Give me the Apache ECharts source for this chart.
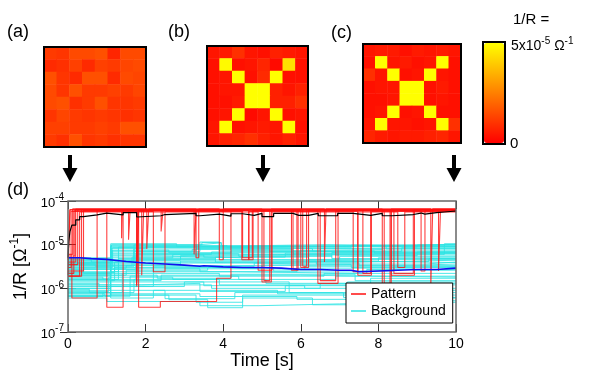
<!DOCTYPE html>
<html><head><meta charset="utf-8">
<script src="https://cdn.jsdelivr.net/npm/echarts/dist/echarts.min.js"></script>
<style>html,body{margin:0;padding:0;background:#fff}#c{width:605px;height:371px}</style>
</head><body><div id="c"></div>
<script>
// ---- 8x8 maps of 1/R, in units of 1e-5 Ohm^-1 (colour scale 0..5) ----
const mapA = [
 [1.14,1.04,1.45,1.45,1.57,0.73,1.45,1.45],
 [0.82,0.94,1.25,0.82,1.25,1.14,1.35,1.45],
 [1.57,1.04,0.82,1.57,1.57,0.82,1.45,1.35],
 [1.45,1.04,1.57,1.14,1.14,1.25,1.14,1.35],
 [1.45,1.57,0.94,1.14,1.57,1.04,1.04,1.14],
 [1.04,1.35,1.14,1.04,1.14,1.04,0.94,1.04],
 [1.25,1.25,1.14,1.14,1.25,1.14,1.57,1.57],
 [1.14,0.94,1.57,1.04,1.14,0.94,1.04,1.04]
];
const mapB = [
 [0.41,0.51,0.94,0.41,0.31,0.63,0.51,0.41],
 [0.31,4.9,0.31,0.41,0.73,0.20,4.4,0.31],
 [0.31,0.41,5,0.31,0.82,5,0.31,0.31],
 [0.31,0.41,0.41,5,5,0.63,0.41,0.63],
 [0.31,0.31,0.51,5,5,0.63,0.63,0.94],
 [0.31,0.41,5,0.20,0.41,5,0.31,0.41],
 [0.41,5,0.31,0.41,0.51,0.41,5,0.31],
 [0.41,0.63,0.73,0.94,0.63,0.41,0.63,0.41]
];
const mapC = [
 [0.41,0.51,0.51,0.31,0.51,0.41,0.51,0.41],
 [0.31,5,0.41,0.51,0.31,0.41,5,0.31],
 [0.94,0.41,5,0.31,0.41,5,0.41,0.31],
 [0.31,0.41,0.41,5,5,0.31,0.51,0.31],
 [0.31,0.31,0.41,5,5,0.31,0.41,0.31],
 [0.31,0.41,5,0.31,0.41,5,0.31,0.31],
 [0.41,5,0.41,0.41,0.31,0.41,5,0.94],
 [0.73,0.51,0.41,0.51,0.51,0.63,0.73,0.41]
];
const colorbarLabels = ['5x10{sup|-5} Ω{sup|-1}', '0'];

// ---- time traces: [time s, 1/R Ohm^-1] (step changes) ----
const patternLines = [
 [[0,2e-6],[0.05,6.2e-5],[1.0,3.7e-7],[1.42,6.2e-5],[5.76,2.6e-6],[5.93,6.2e-5],[10,6.2e-5]],
 [[0,5e-6],[0.1,6e-7],[0.75,6.0e-5],[1.77,1.1e-6],[1.82,6.0e-5],[6.44,1.3e-6],[6.96,6.0e-5],[10,6.0e-5]],
 [[0,1.9e-6],[0.35,6.4e-5],[1.82,3.7e-7],[2.38,5e-7],[3.83,1.7e-6],[4.2,6.4e-5],[8.33,2e-6],[8.93,6.4e-5],[10,6.4e-5]],
 [[0,3e-6],[0.08,5.8e-5],[1.38,1.4e-5],[1.4,5.8e-5],[2.2,2.4e-6],[2.5,5.8e-5],[4.48,4.5e-6],[4.66,5.8e-5],[7.47,2e-6],[7.82,5.8e-5],[10,5.8e-5]],
 [[0,4e-6],[0.2,6.5e-5],[2.03,8e-6],[2.08,6.5e-5],[3.3,5e-6],[3.37,6.5e-5],[5.0,1.4e-6],[5.24,6.5e-5],[8.1,1.2e-6],[8.33,6.5e-5],[10,6.5e-5]],
 [[0,2.5e-6],[0.4,6.1e-5],[1.77,1.2e-6],[1.8,6.1e-5],[4.66,4.5e-6],[4.77,6.1e-5],[6.0,3e-6],[6.2,6.1e-5],[9.1,2.5e-6],[9.2,6.1e-5],[10,6.1e-5]],
 [[0,1.9e-6],[0.3,5.6e-5],[4.9,2.6e-6],[5.26,5.6e-5],[7.35,2.4e-6],[7.47,5.6e-5],[8.5,3e-6],[8.68,5.6e-5],[10,5.6e-5]],
 [[0,6e-6],[0.12,6.6e-5],[3.9,4.5e-6],[4.0,6.6e-5],[6.61,4e-6],[6.65,6.6e-5],[9.35,1e-6],[9.4,6.6e-5],[10,6.6e-5]],
 [[0,3.5e-6],[0.25,6.3e-5],[2.4,2e-5],[2.45,6.3e-5],[5.8,2.8e-6],[5.9,6.3e-5],[8.4,2.2e-6],[8.9,6.3e-5],[10,6.3e-5]],
 [[0,2.2e-6],[0.15,5.9e-5],[1.56,1.3e-5],[1.6,5.9e-5],[4.5,5e-6],[4.75,5.9e-5],[6.5,1.5e-6],[6.9,5.9e-5],[9.55,2.5e-6],[9.6,5.9e-5],[10,5.9e-5]],
 [[0,4.5e-6],[0.05,6.4e-5],[1.9,2e-6],[1.95,6.4e-5],[5.05,1.5e-6],[5.2,6.4e-5],[7.6,2.2e-6],[7.8,6.4e-5],[10,6.4e-5]],
 [[0,5.5e-6],[0.18,6.2e-5],[3.25,6e-6],[3.3,6.2e-5],[6.05,3.2e-6],[6.15,6.2e-5],[8.15,1.3e-6],[8.3,6.2e-5],[10,6.2e-5]]
];
const backgroundLines = [
 [[0,4.8e-6],[1.1,9.5e-6],[4.1,8.5e-6],[7.3,9.8e-6],[10,9.8e-6]],
 [[0,4.2e-6],[1.12,1.0e-5],[3.4,1.1e-5],[3.95,9e-6],[10,9e-6]],
 [[0,3.6e-6],[0.7,3.2e-6],[1.7,8e-6],[5.2,7e-6],[8.6,8.5e-6],[10,8.5e-6]],
 [[0,3.0e-6],[1.15,7.5e-6],[2.6,6.5e-6],[6.0,7.5e-6],[10,7.5e-6]],
 [[0,2.6e-6],[0.4,2.2e-6],[1.8,6e-6],[3.7,6.8e-6],[6.9,5.8e-6],[10,5.8e-6]],
 [[0,2.2e-6],[1.1,5.5e-6],[2.4,5e-6],[4.5,6e-6],[9.7,1.05e-5],[10,1.05e-5]],
 [[0,1.8e-6],[0.9,1.6e-6],[1.75,4.5e-6],[5.5,4.2e-6],[8.0,5e-6],[10,5e-6]],
 [[0,1.5e-6],[1.2,4e-6],[3.1,3.6e-6],[6.2,4.6e-6],[10,4.6e-6]],
 [[0,1.3e-6],[0.8,1.1e-6],[2.2,3.2e-6],[4.8,3.8e-6],[7.5,3.3e-6],[10,3.3e-6]],
 [[0,1.1e-6],[1.1,2.8e-6],[3.4,2.4e-6],[5.9,2.9e-6],[8.9,2.6e-6],[10,2.6e-6]],
 [[0,9.5e-7],[0.55,8e-7],[1.4,2.2e-6],[3.9,1.9e-6],[6.6,2.2e-6],[10,2.2e-6]],
 [[0,8.5e-7],[1.05,1.8e-6],[2.7,1.6e-6],[5.1,1.3e-6],[7.8,1.7e-6],[10,1.7e-6]],
 [[0,7.5e-7],[0.95,6.6e-7],[1.6,1.4e-6],[3.5,1.15e-6],[6.1,1.0e-6],[10,1.0e-6]],
 [[0,6.8e-7],[1.1,9e-7],[2.5,5.8e-7],[4.3,8e-7],[7.1,6.2e-7],[10,6.2e-7]],
 [[0,4.5e-6],[0.6,4.0e-6],[1.3,8.8e-6],[4.6,9.5e-6],[8.2,8e-6],[10,8e-6]],
 [[0,3.9e-6],[1.1,6.8e-6],[3.2,7.8e-6],[5.8,6.2e-6],[10,6.2e-6]],
 [[0,3.3e-6],[1.65,5.2e-6],[4.0,4.5e-6],[7.0,5.4e-6],[10,5.4e-6]],
 [[0,2.8e-6],[1.1,3.6e-6],[2.9,4.2e-6],[6.4,3.6e-6],[9.2,4e-6],[10,4e-6]],
 [[0,2.0e-6],[1.5,2.6e-6],[3.6,3.0e-6],[5.3,2.5e-6],[8.4,3.1e-6],[10,3.1e-6]],
 [[0,1.6e-6],[1.1,2.0e-6],[2.3,1.7e-6],[4.2,2.1e-6],[7.4,1.5e-6],[10,1.5e-6]],
 [[0,1.2e-6],[1.9,1.3e-6],[3.4,8.5e-7],[5.6,1.15e-6],[8.7,9e-7],[10,9e-7]],
 [[0,1.0e-6],[1.1,7e-7],[3.3,4.8e-7],[4.5,7e-7],[7.9,5.2e-7],[10,5.2e-7]],
 [[0,5e-6],[1.1,1.05e-5],[2.8,9e-6],[4.9,1.0e-5],[10,1.0e-5]],
 [[0,4.0e-6],[1.7,7e-6],[3.4,1.15e-5],[3.9,7.2e-6],[6.5,8.2e-6],[10,8.2e-6]],
 [[0,3.4e-6],[1.1,6.2e-6],[4.4,5.4e-6],[6.8,6.6e-6],[10,6.6e-6]],
 [[0,2.4e-6],[1.3,4.8e-6],[3.8,4e-6],[7.6,4.4e-6],[10,4.4e-6]],
 [[0,1.9e-6],[1.1,3.4e-6],[2.5,2.8e-6],[5.0,3.4e-6],[9.0,3.6e-6],[10,3.6e-6]],
 [[0,1.4e-6],[1.6,1.9e-6],[4.4,1.6e-6],[6.9,1.9e-6],[10,1.9e-6]],
 [[0,9e-7],[1.1,1.1e-6],[3.0,1.4e-6],[5.7,8e-7],[8.2,1.2e-6],[10,1.2e-6]],
 [[0,7e-7],[2.6,5.5e-7],[3.6,3.6e-7],[4.5,6e-7],[6.3,4.2e-7],[9.5,6e-7],[10,6e-7]],
 [[0,6.5e-7],[0.9,8e-7],[1.1,6e-7],[2.2,9e-7],[5.4,7.5e-7],[8.8,7e-7],[10,7e-7]],
 [[0,3.7e-6],[1.1,8.2e-6],[2.0,9.2e-6],[5.9,8.8e-6],[9.0,9.8e-6],[10,9.8e-6]],
 [[0,2.3e-6],[1.2,3.0e-6],[3.6,2.7e-6],[6.1,3.2e-6],[10,3.2e-6]],
 [[0,1.7e-6],[1.1,2.4e-6],[4.3,2.2e-6],[7.7,2.7e-6],[10,2.7e-6]],
 [[0,8e-7],[1.7,1.6e-6],[3.9,1.2e-6],[7.2,1.4e-6],[10,1.4e-6]],
 [[0,6e-7],[1.0,5e-7],[3.4,4e-7],[4.9,4.4e-7],[7.0,4.8e-7],[10,4.8e-7]],
 [[0,4.6e-6],[1.1,9e-6],[3.0,1.0e-5],[6.7,9.2e-6],[10,9.2e-6]],
 [[0,3.8e-6],[1.14,8.6e-6],[4.7,7.8e-6],[8.1,9e-6],[10,9e-6]],
 [[0,3.2e-6],[1.1,7.2e-6],[3.3,8.2e-6],[6.3,7e-6],[10,7e-6]],
 [[0,2.7e-6],[1.75,6.4e-6],[4.2,7.2e-6],[7.9,6.4e-6],[10,6.4e-6]],
 [[0,2.1e-6],[1.1,5.8e-6],[3.5,5.2e-6],[5.6,6.4e-6],[10,6.4e-6]],
 [[0,1.6e-6],[1.3,4.4e-6],[2.9,5.6e-6],[6.8,4.8e-6],[10,4.8e-6]],
 [[0,1.2e-6],[1.1,3.8e-6],[4.0,4.2e-6],[7.2,3.9e-6],[10,3.9e-6]],
 [[0,4.4e-6],[1.7,9.8e-6],[3.45,1.12e-5],[3.95,9.4e-6],[8.6,1.02e-5],[10,1.02e-5]],
 [[0,3.5e-6],[1.1,5e-6],[2.7,6e-6],[5.4,5.6e-6],[9.0,6.8e-6],[10,6.8e-6]],
 [[0,2.9e-6],[1.5,3.3e-6],[4.1,3.5e-6],[7.3,3.0e-6],[10,3.0e-6]],
 [[0,1.0e-6],[1.1,1.5e-6],[2.4,2.0e-6],[6.0,1.8e-6],[10,1.8e-6]],
 [[0,7.8e-7],[1.1,1.2e-6],[3.7,1.0e-6],[6.5,1.3e-6],[10,1.3e-6]],
 [[0,6.6e-7],[1.1,7.5e-7],[3.4,6.5e-7],[5.9,5.6e-7],[8.5,8e-7],[10,8e-7]],
 [[0,2.0e-6],[1.1,4.5e-6],[3.8,5.2e-6],[6.2,4.1e-6],[9.3,4.8e-6],[10,4.8e-6]]
];
const patternMean = [[0,5e-6],[0.02,1.2e-5],[0.05,2e-5],[0.1,2.8e-5],[0.2,3.7e-5],[0.3,4.4e-5],[0.4,4.8e-5],[0.75,5.3e-5],[1.0,4.8e-5],[1.42,5.4e-5],[1.77,4.3e-5],[1.82,4.6e-5],[2.4,4.9e-5],[2.5,5.2e-5],[3.3,4.6e-5],[3.4,5.0e-5],[3.9,4.5e-5],[4.2,5.1e-5],[4.5,4.7e-5],[4.8,5.2e-5],[5.0,4.4e-5],[5.3,5.2e-5],[5.8,4.7e-5],[5.95,5.1e-5],[6.0,4.7e-5],[6.2,5.2e-5],[6.45,4.6e-5],[6.95,5.2e-5],[7.35,4.7e-5],[7.8,5.2e-5],[8.1,4.6e-5],[8.35,4.9e-5],[8.9,5.3e-5],[9.1,5.0e-5],[9.2,5.4e-5],[9.5,5.6e-5],[9.7,5.9e-5],[10,5.9e-5]];
const backgroundMean = [[0,5.0e-6],[0.3,4.8e-6],[0.6,4.6e-6],[1.0,4.4e-6],[1.2,4.1e-6],[1.5,3.8e-6],[2.0,3.6e-6],[2.5,3.4e-6],[3.0,3.2e-6],[3.4,3.3e-6],[3.5,3.1e-6],[4.0,3.0e-6],[4.5,3.0e-6],[5.0,2.9e-6],[5.5,2.7e-6],[6.0,2.7e-6],[6.5,2.6e-6],[7.0,2.6e-6],[7.3,2.4e-6],[7.5,2.5e-6],[8.0,2.6e-6],[8.5,2.7e-6],[9.0,2.7e-6],[9.5,2.9e-6],[10,3.0e-6]];
const timeMin = 0, timeMax = 10, timeStep = 2;
const yMin = 1e-7, yMax = 1e-4;

const FONT = 'Liberation Sans';
const cells = m => { const d = []; m.forEach((row, r) => row.forEach((v, c) => d.push([c, r, v]))); return d; };
const idx = [0,1,2,3,4,5,6,7];

const hmGrids = [
  {left:44, top:47, width:102, height:100},
  {left:207, top:46, width:101, height:100},
  {left:363, top:44, width:98, height:99}
];
const grids = hmGrids.map(g => Object.assign({show:true, borderColor:'#000', borderWidth:2, backgroundColor:'transparent', z:10}, g));
grids.push({left:68, top:201, width:388, height:131, show:true, borderColor:'#666', borderWidth:1.5, backgroundColor:'transparent', z:10});

const xAxes = [0,1,2].map(i => ({type:'category', gridIndex:i, data:idx, show:false}));
const yAxes = [0,1,2].map(i => ({type:'category', gridIndex:i, data:idx, inverse:true, show:false}));

const tickStyle = {show:true, inside:true, length:8, lineStyle:{color:'#333', width:1}};
const rich = {
  b: {fontSize:13, fontFamily:FONT, color:'#000', verticalAlign:'bottom'},
  sup: {fontSize:10, fontFamily:FONT, color:'#000', verticalAlign:'bottom', padding:[0,0,7,0]}
};
xAxes.push({type:'value', gridIndex:3, min:timeMin, max:timeMax, interval:timeStep, position:'bottom',
  axisLine:{show:false}, axisTick:tickStyle, splitLine:{show:false},
  axisLabel:{fontSize:14, fontFamily:FONT, color:'#000', margin:5},
  name:'Time [s]', nameLocation:'middle', nameGap:19, nameTextStyle:{fontSize:18, fontFamily:FONT, color:'#000'}});
xAxes.push({type:'value', gridIndex:3, min:timeMin, max:timeMax, interval:timeStep, position:'top',
  axisLine:{show:false}, axisTick:tickStyle, splitLine:{show:false}, axisLabel:{show:false}});
yAxes.push({type:'log', logBase:10, gridIndex:3, min:yMin, max:yMax, position:'left',
  axisLine:{show:false}, axisTick:tickStyle, splitLine:{show:false}, minorTick:{show:false},
  axisLabel:{margin:4, formatter: v => '{b|10}{sup|' + Math.round(Math.log10(v)) + '}', rich: rich},
  name:'{n|1/R [Ω}{s|-1}{n|]}', nameLocation:'middle', nameRotate:90, nameGap:32,
  nameTextStyle:{rich:{n:{fontSize:18, fontFamily:FONT, color:'#000', verticalAlign:'bottom'}, s:{fontSize:12, fontFamily:FONT, color:'#000', verticalAlign:'bottom', padding:[0,0,9,0]}}}});
yAxes.push({type:'log', logBase:10, gridIndex:3, min:yMin, max:yMax, position:'right',
  axisLine:{show:false}, axisTick:tickStyle, splitLine:{show:false}, axisLabel:{show:false}});

const series = [mapA, mapB, mapC].map((m, i) => ({
  type:'heatmap', xAxisIndex:i, yAxisIndex:i, data:cells(m), silent:true, progressive:0,
  emphasis:{disabled:true}, itemStyle:{borderWidth:0}
}));
const lineBase = {type:'line', xAxisIndex:3, yAxisIndex:3, step:'end', symbol:'none', showSymbol:false, silent:true, animation:false};
const CYAN = '#2ee4e4', RED = '#ff1010';
backgroundLines.forEach(d => series.push(Object.assign({}, lineBase, {name:'Background', data:d, lineStyle:{color:CYAN, width:1, opacity:0.85}, itemStyle:{color:CYAN}})));
patternLines.forEach(d => series.push(Object.assign({}, lineBase, {name:'Pattern', data:d, lineStyle:{color:RED, width:1.1, opacity:0.8}, itemStyle:{color:RED}})));
series.push(Object.assign({}, lineBase, {name:'Background mean', data:backgroundMean, lineStyle:{color:'#1010ee', width:1.6}, itemStyle:{color:'#1010ee'}}));
series.push(Object.assign({}, lineBase, {name:'Pattern mean', data:patternMean, lineStyle:{color:'#000', width:1.2}, itemStyle:{color:'#000'}}));

const arrow = cx => ([
  {type:'rect', shape:{x:cx-2, y:155, width:4, height:14}, style:{fill:'#000'}, silent:true},
  {type:'polygon', shape:{points:[[cx-7.5,168],[cx+7.5,168],[cx,182]]}, style:{fill:'#000'}, silent:true}
]);
const txt = (x, y, text, size, extra) => ({type:'text', x:x, y:y, silent:true, z:20,
  style:Object.assign({text:text, fontSize:size, fontFamily:FONT, fill:'#000', textAlign:'left', textVerticalAlign:'middle'}, extra||{})});
const supRich = {sup:{fontSize:10, fontFamily:FONT, fill:'#000', verticalAlign:'bottom', padding:[0,0,7,0]}, b:{fontSize:14, fontFamily:FONT, fill:'#000', verticalAlign:'bottom'}};

const graphic = [
  {type:'rect', shape:{x:483, y:42, width:22, height:102}, style:{fill:'none', stroke:'#000', lineWidth:2}, silent:true, z:20},
  ...arrow(70), ...arrow(263), ...arrow(454),
  txt(7, 32, '(a)', 18), txt(168, 32, '(b)', 18), txt(331, 33, '(c)', 18), txt(7, 190, '(d)', 18),
  txt(513, 20, '1/R =', 15),
  txt(511, 45, '{b|5x10}{sup|-5}{b| Ω}{sup|-1}', 14, {rich: supRich}),
  txt(510, 144, colorbarLabels[1], 15)
];

const legendIcon = 'path://M0,0L12,0L12,1.2L0,1.2Z';
const chart = echarts.init(document.getElementById('c'));
chart.setOption({
  animation:false,
  backgroundColor:'#fff',
  grid: grids,
  xAxis: xAxes,
  yAxis: yAxes,
  visualMap: {type:'continuous', min:0, max:5, seriesIndex:[0,1,2], orient:'vertical', left:484, top:43,
    itemWidth:20, itemHeight:100, calculable:false, padding:0, hoverLink:false, text:null, showLabel:false,
    inRange:{color:['#ff0000','#ffff00']}},
  legend: {data:[{name:'Pattern', icon:legendIcon, itemStyle:{color:RED}}, {name:'Background', icon:legendIcon, itemStyle:{color:CYAN}}],
    orient:'vertical', left:346, top:283, itemWidth:15, itemHeight:13, itemGap:3, symbolKeepAspect:true,
    padding:[4,7,5,5], borderColor:'#000', borderWidth:1, borderRadius:0, backgroundColor:'#fff', z:15,
    selectedMode:false, textStyle:{fontSize:14, fontFamily:FONT, color:'#000'}},
  graphic: graphic,
  series: series
});
</script></body></html>
